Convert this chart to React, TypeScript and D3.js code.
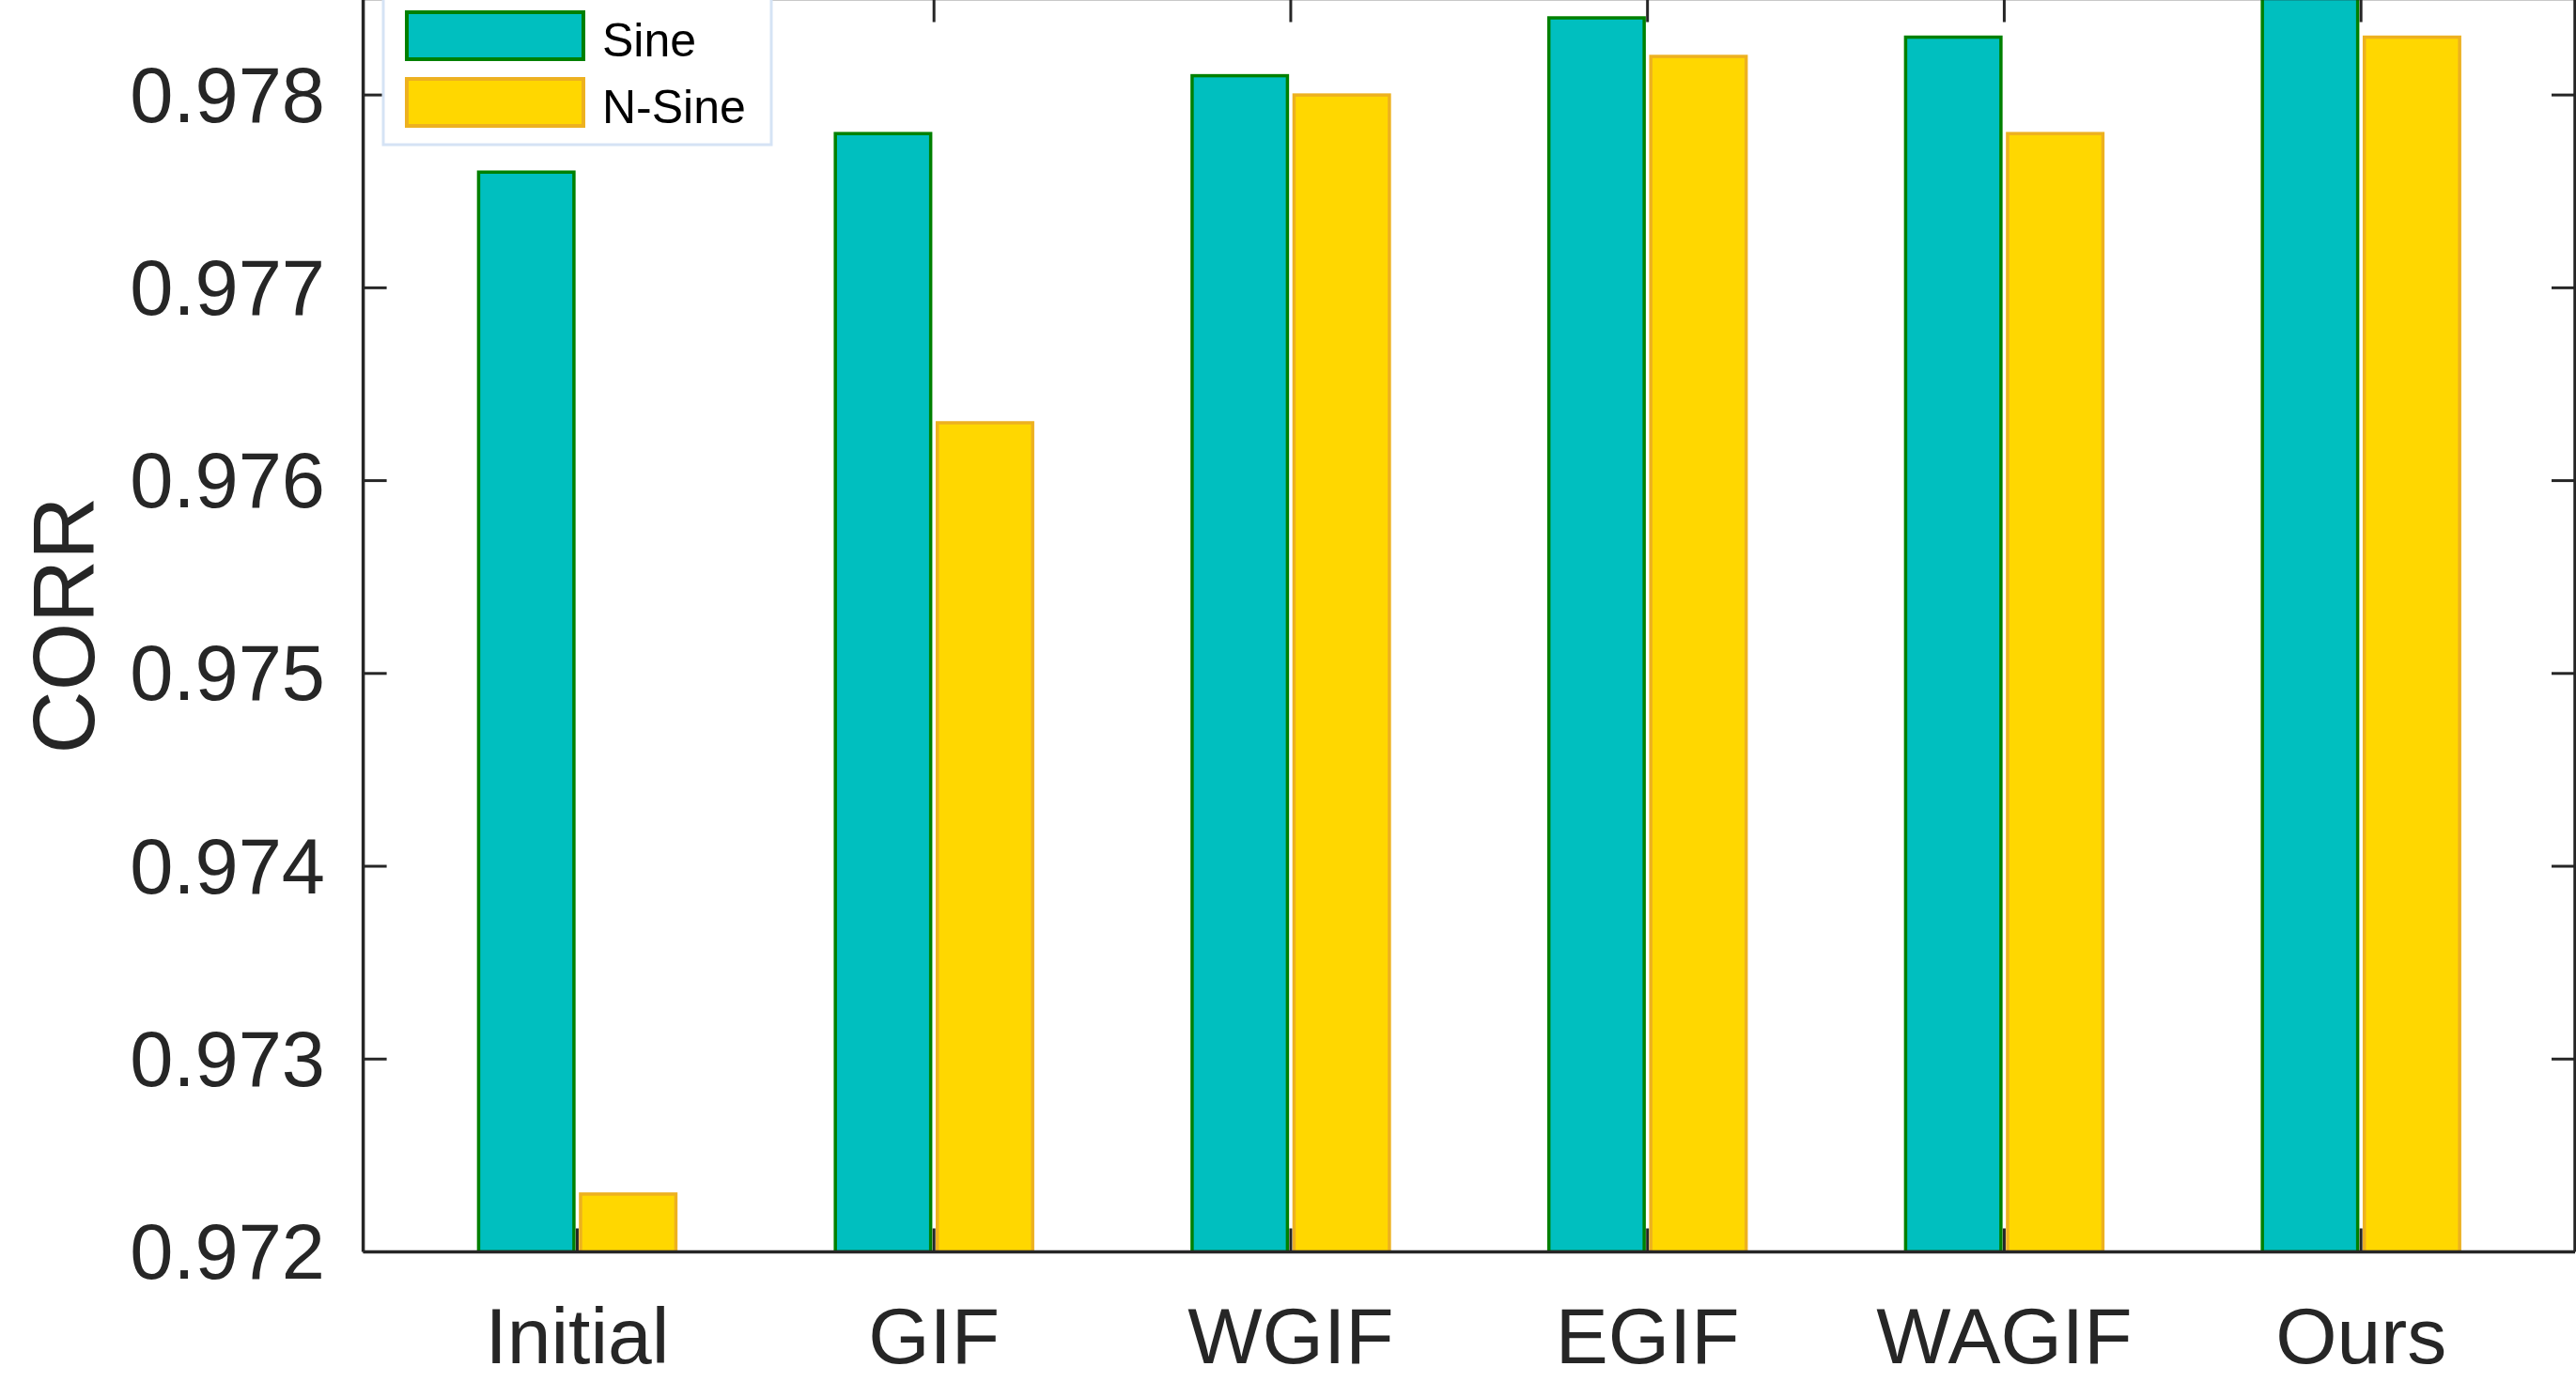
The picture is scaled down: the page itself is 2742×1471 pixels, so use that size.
import * as d3 from 'd3';

const categories = ['Initial', 'GIF', 'WGIF', 'EGIF', 'WAGIF', 'Ours'];
const seriesNames = ['Sine', 'N-Sine'];
const sineValues = [0.9776, 0.9778, 0.97810, 0.9784, 0.9783, 0.9786];
const nSineValues = [0.9723, 0.9763, 0.9780, 0.9782, 0.9778, 0.9783];
const yTickValues = [0.972, 0.973, 0.974, 0.975, 0.976, 0.977, 0.978];

const fills = ['#00BFBF', '#FFD700'];
const edges = ['#008000', '#EDB120'];
const axisColor = '#262626';
const font = '"Liberation Sans", Arial, Helvetica, sans-serif';

export default function App() {
  const width = 2742;
  const height = 1471;
  const left = 386.6;
  const right = 2741;
  const bottom = 1332.5;
  const top = -1.5;

  // x is linear in category index, MATLAB style xlim [0.4, 6.6]
  const xScale = d3.scaleLinear().domain([0.4, 6.6]).range([left, right]);
  const unit = xScale(2) - xScale(1);

  // series offsets inside a group
  const groupScale = d3.scaleBand()
    .domain(seriesNames)
    .range([-0.2765 * unit, 0.2765 * unit])
    .paddingInner(0.065);

  const yScale = d3.scaleLinear().domain([0.972, 0.9785]).range([bottom, top]);

  const seriesValues = [sineValues, nSineValues];
  const tickLen = 25;

  return (
    <svg
      width={width}
      height={height}
      style={{ position: 'absolute', left: 0, top: 0, background: '#fff' }}
      fontFamily={font}
    >
      <defs>
        <clipPath id="plot-clip">
          <rect x={left} y={top} width={right - left} height={bottom - top} />
        </clipPath>
      </defs>

      {/* Bars */}
      <g clipPath="url(#plot-clip)">
        {seriesValues.map((vals, s) =>
          vals.map((v, i) => {
            const x0 = xScale(i + 1) + groupScale(seriesNames[s])!;
            const yTop = yScale(v);
            return (
              <rect
                key={`${s}-${i}`}
                x={x0}
                y={yTop}
                width={groupScale.bandwidth()}
                height={bottom - yTop}
                fill={fills[s]}
                stroke={edges[s]}
                strokeWidth={3.5}
              />
            );
          })
        )}
      </g>

      {/* Axes box */}
      <g stroke={axisColor} strokeWidth={3.5} fill="none">
        <line x1={left} x2={right} y1={bottom} y2={bottom} />
        <line x1={left} x2={left} y1={top} y2={bottom} />
        <line x1={right} x2={right} y1={top} y2={bottom} />
        <line x1={left} x2={right} y1={top} y2={top} />
      </g>

      {/* X ticks */}
      <g stroke={axisColor} strokeWidth={3}>
        {categories.map((c, i) => (
          <g key={c}>
            <line x1={xScale(i + 1)} x2={xScale(i + 1)} y1={bottom} y2={bottom - tickLen} />
            <line x1={xScale(i + 1)} x2={xScale(i + 1)} y1={top} y2={top + tickLen} />
          </g>
        ))}
      </g>
      {categories.map((c, i) => (
        <text
          key={c}
          x={xScale(i + 1)}
          y={1451}
          textAnchor="middle"
          fontSize={84}
          fill={axisColor}
        >
          {c}
        </text>
      ))}

      {/* Y ticks */}
      <g stroke={axisColor} strokeWidth={3}>
        {yTickValues.map(t => (
          <g key={t}>
            <line x1={left} x2={left + tickLen} y1={yScale(t)} y2={yScale(t)} />
            <line x1={right} x2={right - tickLen} y1={yScale(t)} y2={yScale(t)} />
          </g>
        ))}
      </g>
      {yTickValues.map(t => (
        <text
          key={t}
          x={346}
          y={yScale(t)}
          textAnchor="end"
          dominantBaseline="central"
          fontSize={83}
          fill={axisColor}
        >
          {d3.format('.3f')(t)}
        </text>
      ))}

      {/* Y label */}
      <text
        transform={`translate(100,${(top + bottom) / 2}) rotate(-90)`}
        textAnchor="middle"
        fontSize={93}
        fill={axisColor}
      >
        CORR
      </text>

      {/* Legend */}
      <g>
        <rect x={408} y={-8} width={413} height={162} fill="#fff" stroke="#D5E3F5" strokeWidth={3} />
        {seriesNames.map((name, s) => (
          <g key={name} transform={`translate(0,${s * 71})`}>
            <rect x={433} y={13} width={188} height={50} fill={fills[s]} stroke={edges[s]} strokeWidth={4} />
            <text x={641} y={43} dominantBaseline="central" fontSize={50} fill="#000">
              {name}
            </text>
          </g>
        ))}
      </g>
    </svg>
  );
}
